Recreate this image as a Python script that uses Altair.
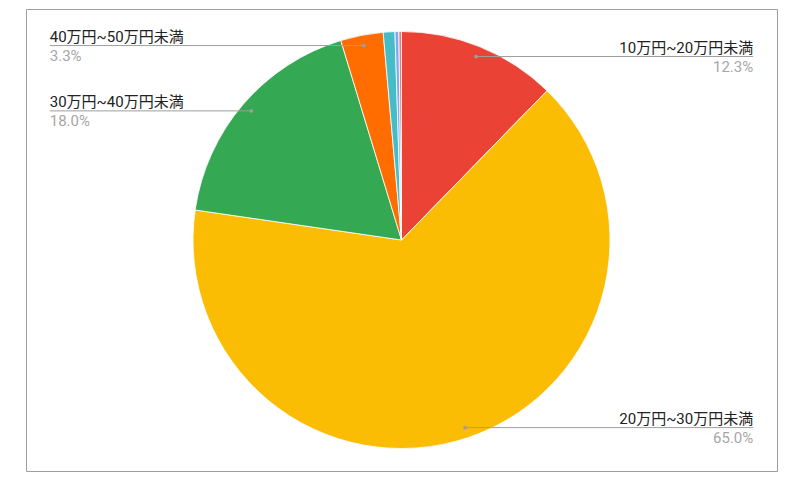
import altair as alt
import pandas as pd

# 給与帯ごとの構成比(%)
categories = [
    "10万円~20万円未満",
    "20万円~30万円未満",
    "30万円~40万円未満",
    "40万円~50万円未満",
    "50万円~60万円未満",
    "60万円~70万円未満",
    "70万円以上",
]
shares = [12.3, 65.0, 18.0, 3.3, 0.9, 0.3, 0.2]
colors = ["#ea4335", "#fbbc04", "#34a853", "#ff6d01", "#46bdc6", "#7baaf7", "#f07b72"]

W, H, R = 751, 462, 208.5  # view size and pie radius in px
LABEL_X = 1.687            # label edge, in pie radii from centre
FONT = "Roboto, 'Noto Sans CJK JP', sans-serif"

df = pd.DataFrame({"category": categories, "value": shares, "idx": range(len(shares))})

xs = alt.Scale(domain=[-W / 2 / R, W / 2 / R])
ys = alt.Scale(domain=[-H / 2 / R, H / 2 / R])

pie = alt.Chart(df).mark_arc(radius=R, stroke="white", strokeWidth=0.8).encode(
    theta=alt.Theta("value:Q", stack=True),
    color=alt.Color("category:N", scale=alt.Scale(domain=categories, range=colors), legend=None),
    order=alt.Order("idx:Q"),
)

lab = (
    alt.Chart(df)
    .transform_joinaggregate(total="sum(value)")
    .transform_window(cum="sum(value)", sort=[{"field": "idx"}])
    .transform_calculate(
        mid="(datum.cum - datum.value / 2) / datum.total * 2 * PI",
        px="0.95 * sin(datum.mid)",
        py="0.95 * cos(datum.mid)",
        side="sin(datum.mid) >= 0 ? 1 : -1",
        tx=f"(sin(datum.mid) >= 0 ? 1 : -1) * {LABEL_X}",
        pct="datum.value / datum.total",
    )
    .transform_filter("datum.value >= 2")
)

x_dot = alt.X("px:Q", scale=xs, axis=None)
y_dot = alt.Y("py:Q", scale=ys, axis=None)

leader = lab.mark_rule(color="#9e9e9e", strokeWidth=1).encode(
    x=x_dot, x2="tx:Q", y=y_dot
)
dots = lab.mark_circle(color="#9e9e9e", size=14, opacity=1).encode(x=x_dot, y=y_dot)


def texts(side_filter, align):
    s = lab.transform_filter(side_filter)
    tx = alt.X("tx:Q", scale=xs, axis=None)
    name = s.mark_text(align=align, baseline="alphabetic", dy=-4, font=FONT,
                       fontSize=15, color="#222222").encode(x=tx, y=y_dot, text="category:N")
    pct = s.mark_text(align=align, baseline="alphabetic", dy=15, font=FONT,
                      fontSize=15, color="#a6a6a6").encode(
        x=tx, y=y_dot, text=alt.Text("pct:Q", format=".1%"))
    return name + pct


chart = (
    alt.layer(pie, leader, dots, texts("datum.side > 0", "right"), texts("datum.side < 0", "left"))
    .properties(width=W, height=H, padding={"left": 18, "top": 1, "right": 4, "bottom": 4},
                background="white")
    .configure_view(stroke="#9e9e9e", strokeWidth=1)
)

chart.save("out.html", embed_options={"renderer": "svg", "actions": False})
